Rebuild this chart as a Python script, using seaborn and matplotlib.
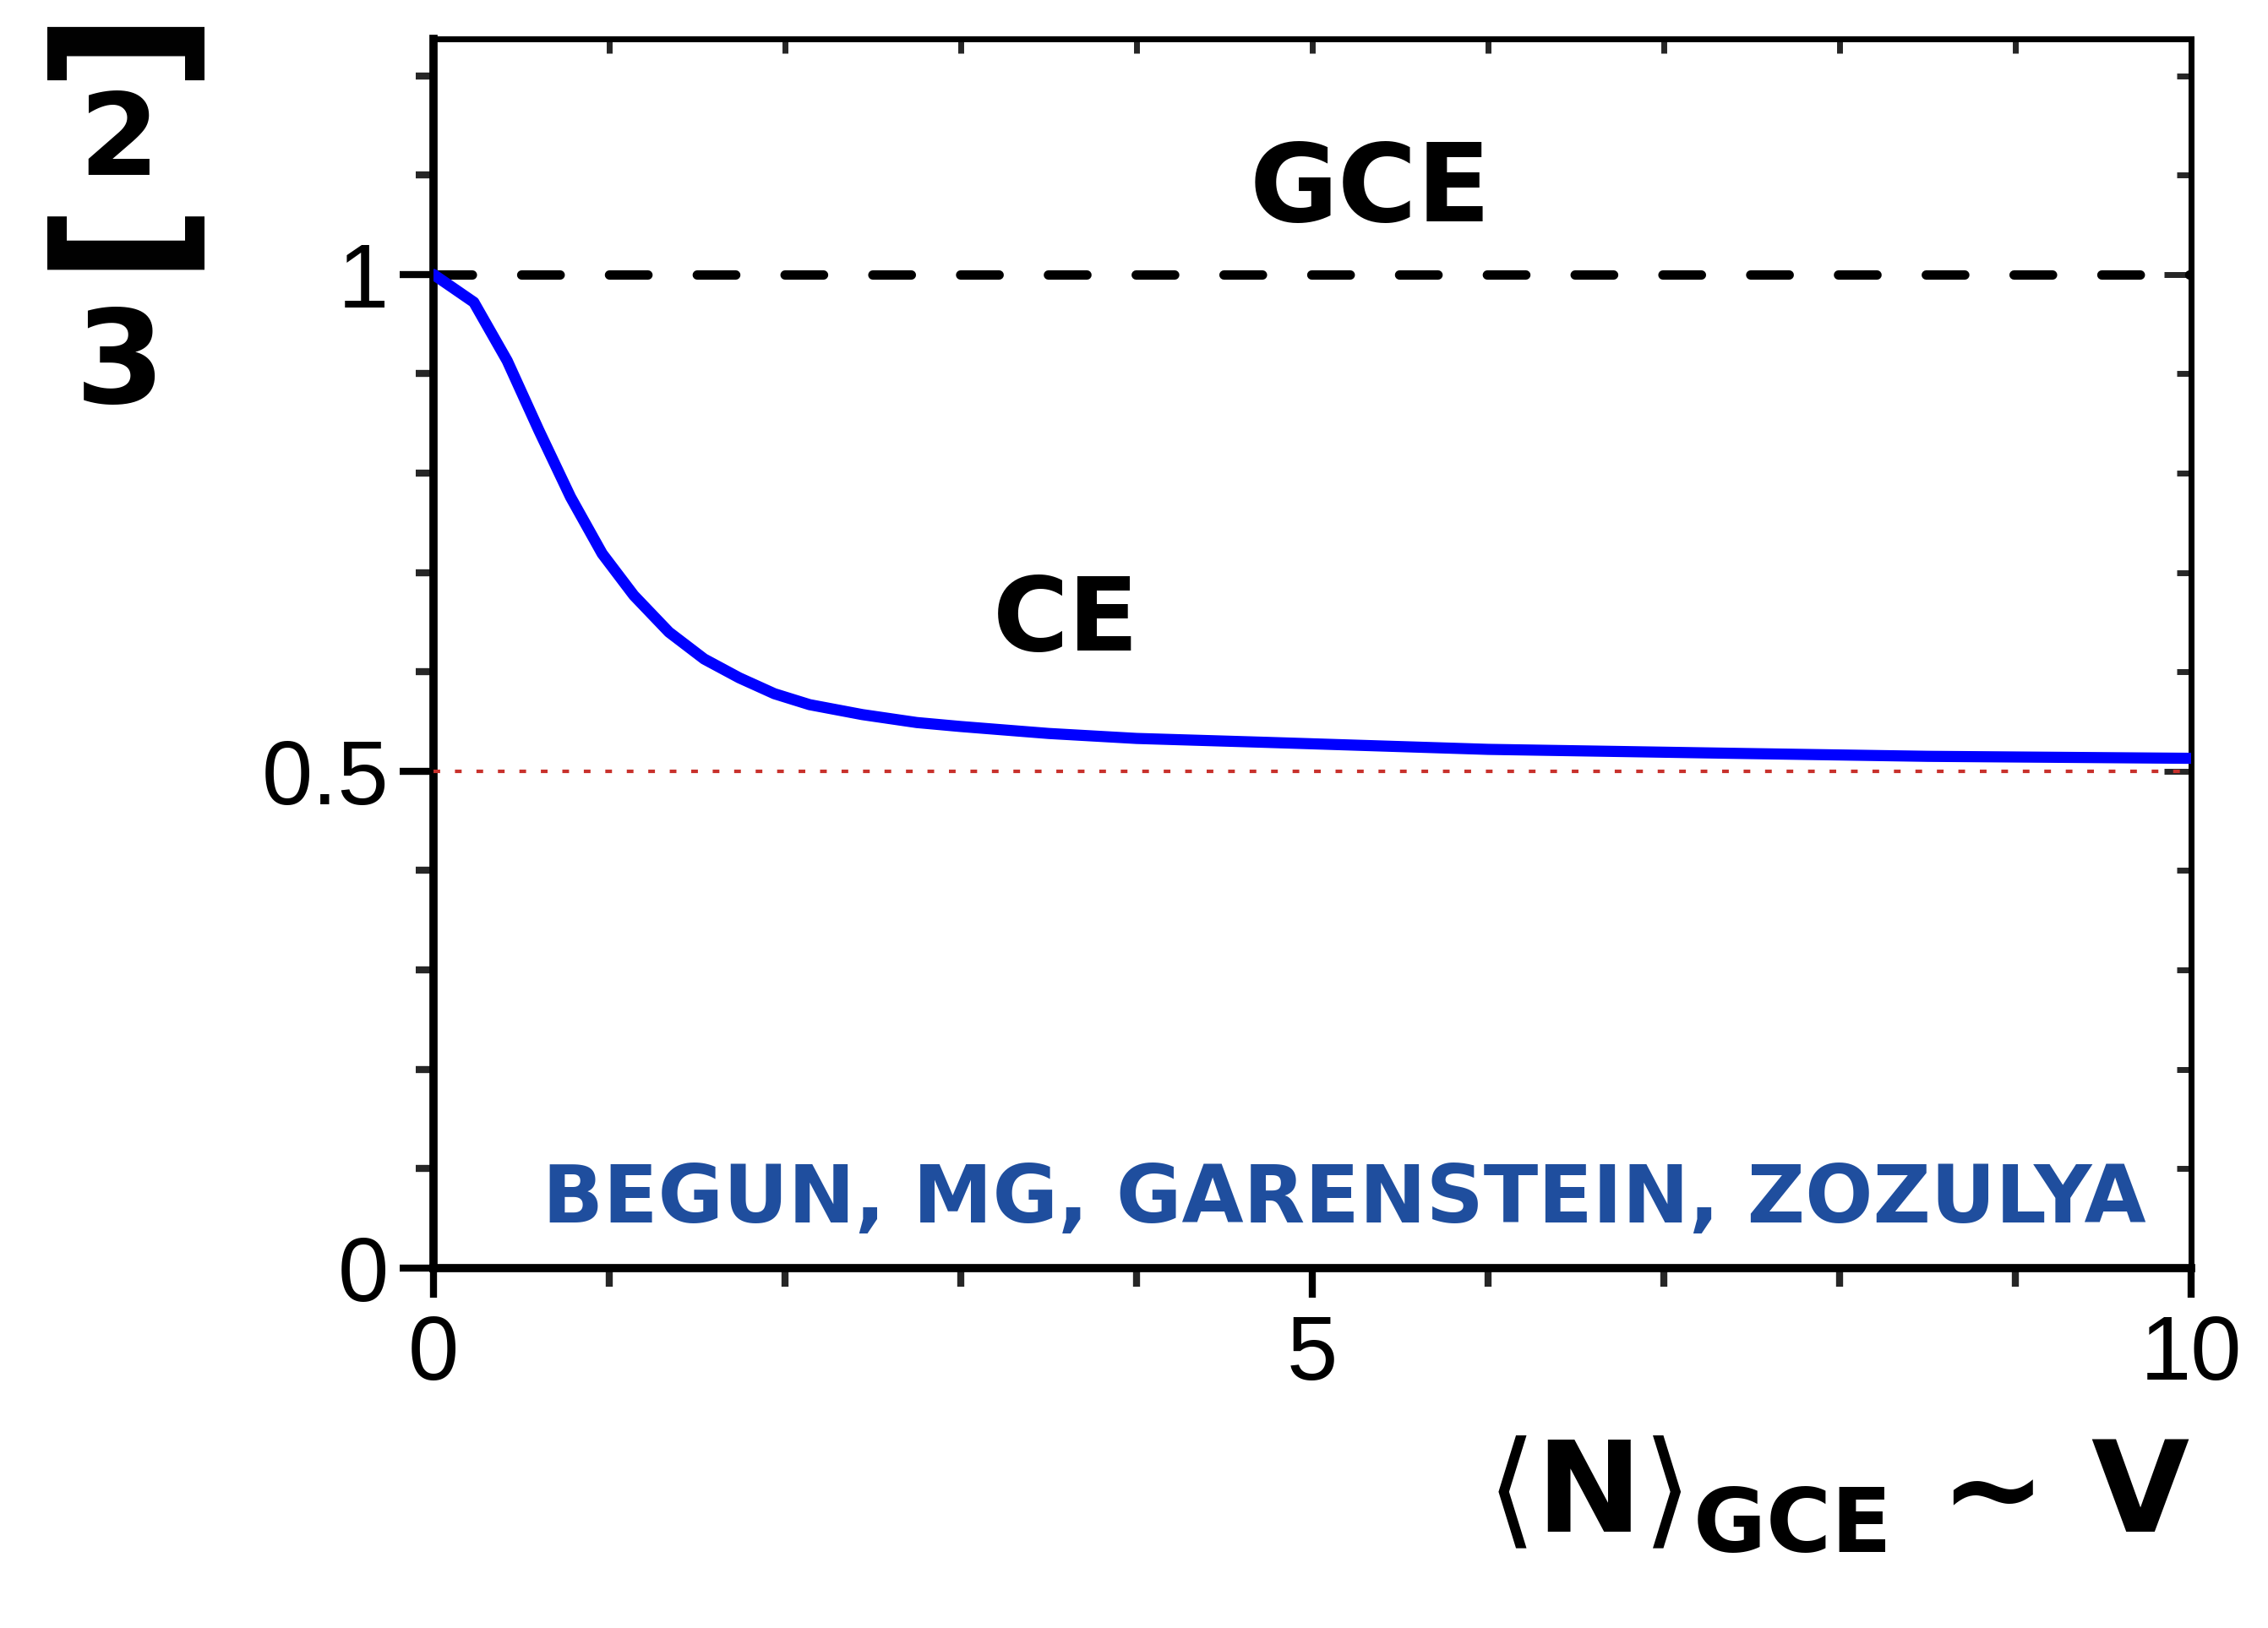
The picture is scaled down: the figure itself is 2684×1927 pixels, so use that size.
import numpy as np
import pandas as pd
import matplotlib
matplotlib.use("Agg")
import matplotlib.pyplot as plt
import seaborn as sns
from matplotlib.ticker import MultipleLocator, FixedLocator

# ---- data ----
n_gce = [0.0, 0.23, 0.42, 0.60, 0.78, 0.96, 1.14, 1.34, 1.54, 1.74, 1.94,
         2.14, 2.44, 2.75, 3.0, 3.5, 4.0, 4.75, 6.0, 7.4, 8.5, 10.0]
ratio_ce = [1.0, 0.972, 0.913, 0.843, 0.776, 0.719, 0.677, 0.640, 0.613,
            0.594, 0.578, 0.567, 0.557, 0.549, 0.545, 0.538, 0.533, 0.529,
            0.522, 0.518, 0.515, 0.513]
gce_level = 1.0
limit_level = 0.5
x_ticks = [0, 5, 10]
x_ticklabels = ["0", "5", "10"]
y_ticks = [0, 0.5, 1]
y_ticklabels = ["0", "0.5", "1"]
label_gce = "GCE"
label_ce = "CE"
authors = "BEGUN, MG, GARENSTEIN, ZOZULYA"

sns.set_theme(style="white")
plt.rcParams["font.family"] = ["Liberation Sans", "DejaVu Sans"]
plt.rcParams["mathtext.fontset"] = "dejavusans"

fig = plt.figure(figsize=(26.84, 19.27), dpi=100)
ax = fig.add_axes([0.1911, 0.2211, 0.775, 0.755])

df = pd.DataFrame({"N": n_gce, "ratio": ratio_ce})
sns.lineplot(data=df, x="N", y="ratio", color="#0000ff", lw=9.5, ax=ax,
             legend=False, zorder=4)

ax.axhline(gce_level, color="black", lw=8, dashes=(4.1, 5.25),
           dash_capstyle="round", zorder=3)
ax.axhline(limit_level, color="#c8312c", lw=3, dashes=(1.9, 4.2), zorder=3)

ax.set_xlim(0, 10)
ax.set_ylim(0, 1.237)

for side, w in [("left", 7), ("bottom", 7), ("top", 5), ("right", 5)]:
    ax.spines[side].set_linewidth(w)
    ax.spines[side].set_color("black")

ax.xaxis.set_major_locator(FixedLocator(x_ticks))
ax.set_xticklabels(x_ticklabels)
ax.xaxis.set_minor_locator(MultipleLocator(1))
ax.yaxis.set_major_locator(FixedLocator(y_ticks))
ax.set_yticklabels(y_ticklabels)
ax.yaxis.set_minor_locator(MultipleLocator(0.1))

ax.tick_params(which="both", bottom=True, left=True, top=False, right=False)
ax.tick_params(axis="both", which="major", direction="out", width=6,
               labelsize=78, colors="black")
ax.tick_params(axis="x", which="major", length=25, pad=14)
ax.tick_params(axis="x", which="minor", length=16, width=6, direction="out")
ax.tick_params(axis="y", which="major", length=29, pad=9)
ax.tick_params(axis="y", which="minor", length=15, width=6, direction="out")

# inward ticks on top and right
top = ax.secondary_xaxis("top")
top.xaxis.set_major_locator(MultipleLocator(1))
top.tick_params(direction="in", length=12, width=5, labeltop=False)
top.spines["top"].set_linewidth(5)
right = ax.secondary_yaxis("right")
right.yaxis.set_major_locator(FixedLocator(y_ticks))
right.yaxis.set_minor_locator(MultipleLocator(0.1))
right.tick_params(which="major", direction="in", length=23, width=5, labelright=False)
right.tick_params(which="minor", direction="in", length=12, width=5)
right.spines["right"].set_linewidth(5)

ax.set_xlabel("")
ax.set_ylabel("")

hand = dict(family=["DejaVu Sans"], fontweight="bold", color="black")
ax.text(5.33, 1.084, label_gce, fontsize=92, ha="center", va="center", **hand)
ax.text(3.6, 0.65, label_ce, fontsize=88, ha="center", va="center", **hand)
ax.text(5.18, 0.068, authors, fontsize=68, ha="center", va="center",
        family=["DejaVu Sans"], fontweight="bold", color="#1f4e9e")

# x label (handwritten in the reference)
fig.text(0.966, 0.080,
         r"$\langle\mathbf{N}\rangle_{\mathbf{GCE}}\,\mathbf{\sim}\,\mathbf{V}$",
         fontsize=108, ha="right", va="center", color="black")

# y label: bracketed 2 over 3
yl = dict(ha="center", va="center", color="black")
fig.text(0.0506, 0.9720, r"$\mathbf{[}$", fontsize=150, rotation=-90, **yl)
fig.text(0.0506, 0.9109, r"$\mathbf{2}$", fontsize=98, **yl)
fig.text(0.0506, 0.8550, r"$\mathbf{]}$", fontsize=150, rotation=-90, **yl)
fig.text(0.0506, 0.7726, r"$\mathbf{3}$", fontsize=110, **yl)

fig.savefig("out.png", dpi=100, facecolor="white")
